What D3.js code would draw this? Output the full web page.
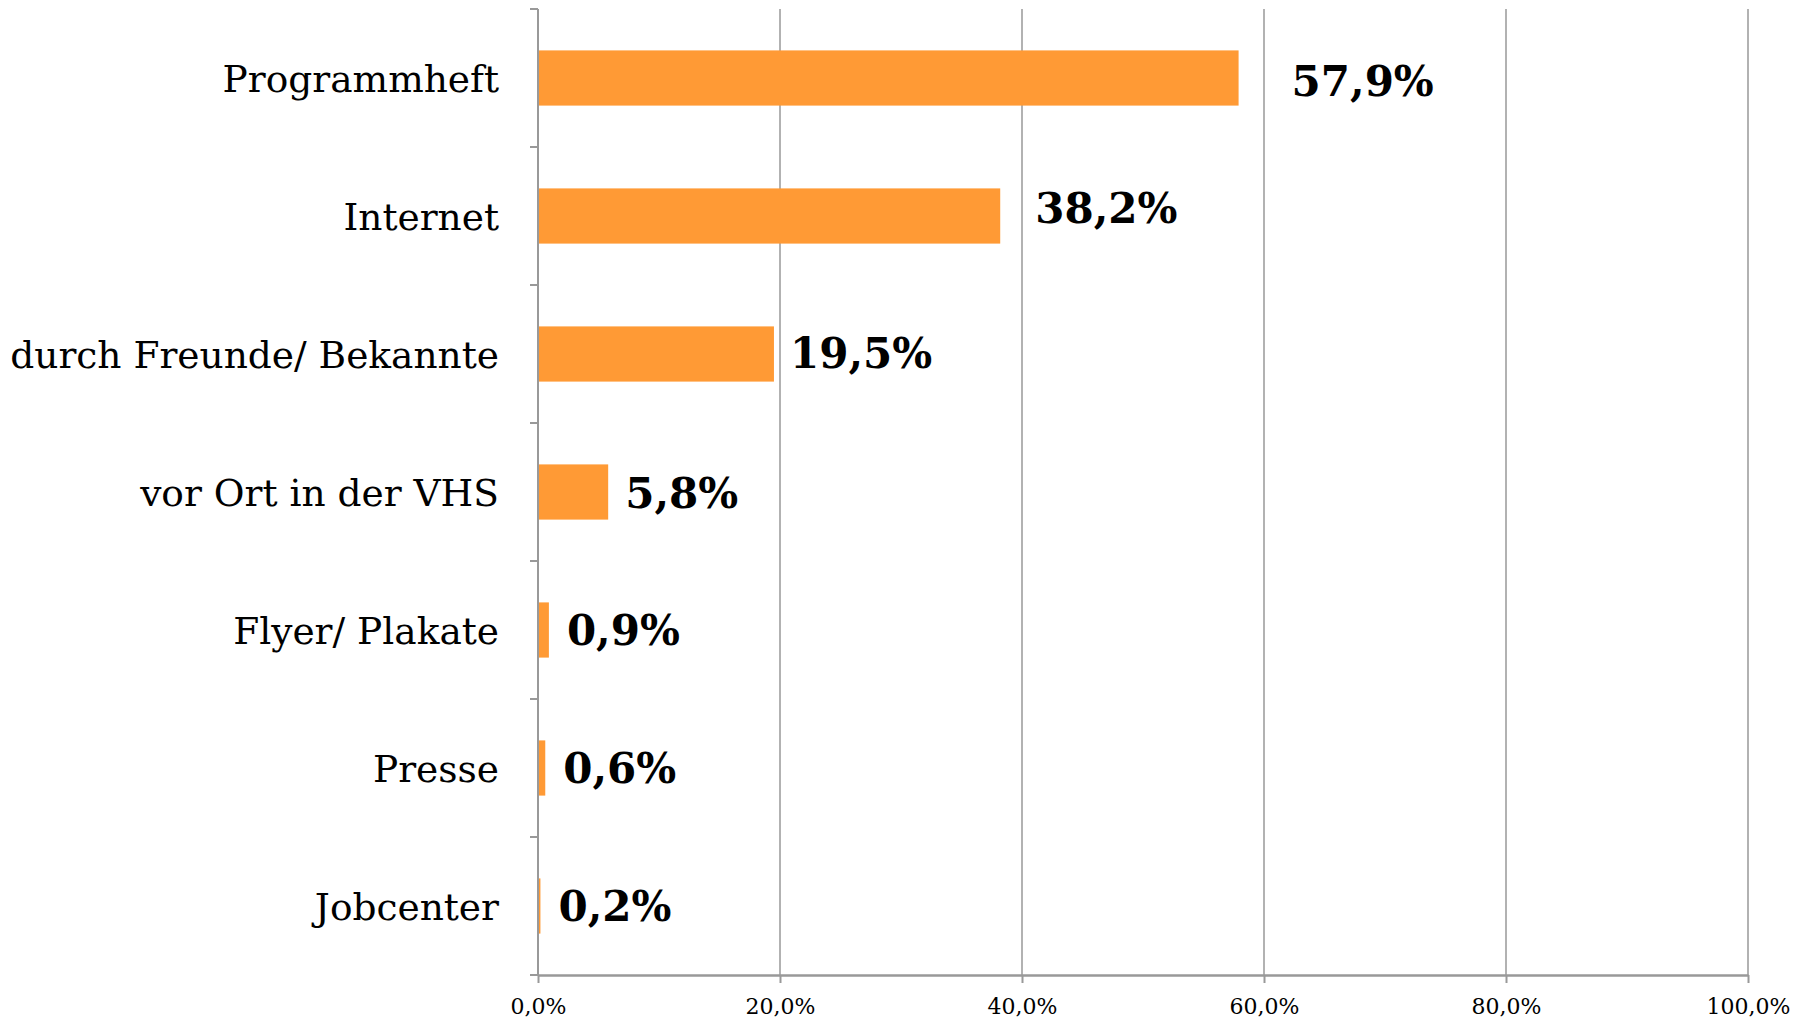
<!DOCTYPE html>
<html>
<head>
<meta charset="utf-8">
<script src="https://cdn.jsdelivr.net/npm/d3@7"></script>
<style>
  html, body { margin: 0; padding: 0; background: #fff; }
  svg { display: block; }
</style>
</head>
<body>
<svg id="chart" width="1814" height="1020"></svg>
<script>
// ---- data ----
const categories = ["Programmheft", "Internet", "durch Freunde/ Bekannte", "vor Ort in der VHS", "Flyer/ Plakate", "Presse", "Jobcenter"];
const values = [0.579, 0.382, 0.195, 0.058, 0.009, 0.006, 0.002];
const valueLabels = ["57,9%", "38,2%", "19,5%", "5,8%", "0,9%", "0,6%", "0,2%"];
const xTickValues = [0, 0.2, 0.4, 0.6, 0.8, 1.0];
const xTickLabels = ["0,0%", "20,0%", "40,0%", "60,0%", "80,0%", "100,0%"];

// ---- layout (manual label nudges as in the original) ----
const labelDx = [53, 35, 16, 17, 18, 18, 18];
const labelDy = [3, -8, -1, 1, 0, 0, 0];

const margin = { left: 538, right: 1748, top: 9, bottom: 975 };
const svg = d3.select("#chart");

const x = d3.scaleLinear().domain([0, 1]).range([margin.left, margin.right]);
const y = d3.scaleBand().domain(categories).range([margin.top, margin.bottom]).paddingInner(0.6).paddingOuter(0.3);

const grey = "#999999";
const serif = "'DejaVu Serif', 'Liberation Serif', serif";

// gridlines
svg.append("g").selectAll("line")
  .data(xTickValues.filter(d => d > 0))
  .join("line")
  .attr("x1", d => x(d)).attr("x2", d => x(d))
  .attr("y1", margin.top).attr("y2", margin.bottom)
  .attr("stroke", grey).attr("stroke-width", 1.5);

// bars
svg.append("g").selectAll("rect")
  .data(categories)
  .join("rect")
  .attr("x", x(0))
  .attr("y", d => y(d))
  .attr("width", (d, i) => x(values[i]) - x(0))
  .attr("height", y.bandwidth())
  .attr("fill", "#ff9a35");

// left axis: line + ticks at band boundaries
const step = y.step();
const boundaries = d3.range(categories.length + 1).map(i => margin.top + i * step);
const yAxis = svg.append("g");
yAxis.append("line")
  .attr("x1", x(0)).attr("x2", x(0))
  .attr("y1", margin.top).attr("y2", margin.bottom)
  .attr("stroke", grey).attr("stroke-width", 2);
yAxis.selectAll("line.tick")
  .data(boundaries)
  .join("line").attr("class", "tick")
  .attr("x1", x(0) - 8).attr("x2", x(0))
  .attr("y1", d => d).attr("y2", d => d)
  .attr("stroke", grey).attr("stroke-width", 2);

// category labels
svg.append("g").selectAll("text")
  .data(categories)
  .join("text")
  .attr("x", x(0) - 39)
  .attr("y", d => y(d) + y.bandwidth() / 2)
  .attr("dy", "0.36em")
  .attr("text-anchor", "end")
  .attr("font-family", serif)
  .attr("font-size", 37.5)
  .attr("fill", "#000")
  .text(d => d);

// bottom axis
const xAxis = d3.axisBottom(x)
  .tickValues(xTickValues)
  .tickFormat((d, i) => xTickLabels[i])
  .tickSize(8)
  .tickSizeOuter(0)
  .tickPadding(15);
const gx = svg.append("g")
  .attr("transform", `translate(0,${margin.bottom})`)
  .call(xAxis);
gx.select(".domain").attr("stroke", grey).attr("stroke-width", 2.5);
gx.selectAll(".tick line").attr("stroke", grey).attr("stroke-width", 2);
gx.selectAll(".tick text")
  .attr("font-family", serif)
  .attr("font-size", 22)
  .attr("fill", "#000");

// value labels
svg.append("g").selectAll("text")
  .data(categories)
  .join("text")
  .attr("x", (d, i) => x(values[i]) + labelDx[i])
  .attr("y", (d, i) => y(d) + y.bandwidth() / 2 + labelDy[i])
  .attr("dy", "0.36em")
  .attr("font-family", serif)
  .attr("font-weight", "bold")
  .attr("font-size", 42)
  .attr("fill", "#000")
  .text((d, i) => valueLabels[i]);
</script>
</body>
</html>
